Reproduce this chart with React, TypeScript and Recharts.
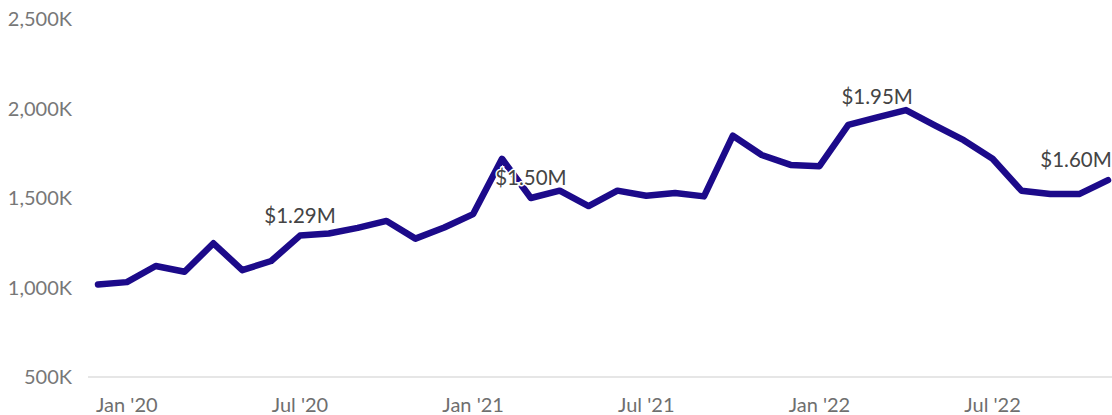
import React from 'react';
import { LineChart, Line, XAxis, YAxis, LabelList } from 'recharts';

const months = [
  "Dec '19",
  "Jan '20", "Feb '20", "Mar '20", "Apr '20", "May '20", "Jun '20",
  "Jul '20", "Aug '20", "Sep '20", "Oct '20", "Nov '20", "Dec '20",
  "Jan '21", "Feb '21", "Mar '21", "Apr '21", "May '21", "Jun '21",
  "Jul '21", "Aug '21", "Sep '21", "Oct '21", "Nov '21", "Dec '21",
  "Jan '22", "Feb '22", "Mar '22", "Apr '22", "May '22", "Jun '22",
  "Jul '22", "Aug '22", "Sep '22", "Oct '22", "Nov '22",
];

// values in thousands of dollars
const sales = [
  1017,
  1030, 1120, 1088, 1247, 1097, 1148,
  1290, 1302, 1333, 1372, 1273, 1335,
  1410, 1719, 1500, 1541, 1455, 1541,
  1513, 1528, 1509, 1848, 1740, 1685,
  1678, 1908, 1950, 1991, 1906, 1823,
  1719, 1541, 1522, 1522, 1600,
];

const yTicks = [500, 1000, 1500, 2000, 2500];
const xTickMonths = ["Jan '20", "Jul '20", "Jan '21", "Jul '21", "Jan '22", "Jul '22"];
const labelledMonths = ["Jul '20", "Mar '21", "Mar '22", "Nov '22"];

const data = months.map((m, i) => ({ month: m, sales: sales[i] }));

const FONT = 'Lato, "Noto Sans", sans-serif';

const PointLabel = (props: any) => {
  const { x, y, value, index } = props;
  if (!labelledMonths.includes(months[index])) return null;
  // keep the last label inside the chart edge
  const cx = Math.min(x, 1076);
  return (
    <text
      x={cx}
      y={y - 21}
      textAnchor="middle"
      dominantBaseline="central"
      fill="#444"
      stroke="#fff"
      strokeWidth={3}
      paintOrder="stroke"
      style={{ fontFamily: FONT, fontSize: 20.5 }}
    >
      {`$${(value / 1000).toFixed(2)}M`}
    </text>
  );
};

const App: React.FC = () => {
  return (
    <div style={{ position: 'absolute', left: 0, top: 0, background: '#fff' }}>
      <LineChart
        width={1112}
        height={415}
        data={data}
        margin={{ top: 19, right: 0, bottom: 0, left: 0 }}
      >
        <XAxis
          dataKey="month"
          height={38}
          interval={0}
          padding={{ left: 10, right: 4 }}
          tickLine={false}
          axisLine={{ stroke: '#e6e6e6', strokeWidth: 2 }}
          tickMargin={15}
          tickFormatter={(m: string) => (xTickMonths.includes(m) ? m : '')}
          tick={{ fill: '#6f6f6f', fontSize: 20, fontFamily: FONT }}
        />
        <YAxis
          width={88}
          domain={[500, 2500]}
          ticks={yTicks}
          axisLine={false}
          tickLine={false}
          tickMargin={10}
          tickFormatter={(v: number) => `${v.toLocaleString('en-US')}K`}
          tick={{ fill: '#777', fontSize: 20, fontFamily: FONT }}
        />
        <Line
          type="linear"
          dataKey="sales"
          stroke="#1c0a8a"
          strokeWidth={6.5}
          strokeLinejoin="round"
          strokeLinecap="round"
          dot={false}
          activeDot={false}
          isAnimationActive={false}
        >
          <LabelList dataKey="sales" content={PointLabel} />
        </Line>
      </LineChart>
    </div>
  );
};

export default App;
